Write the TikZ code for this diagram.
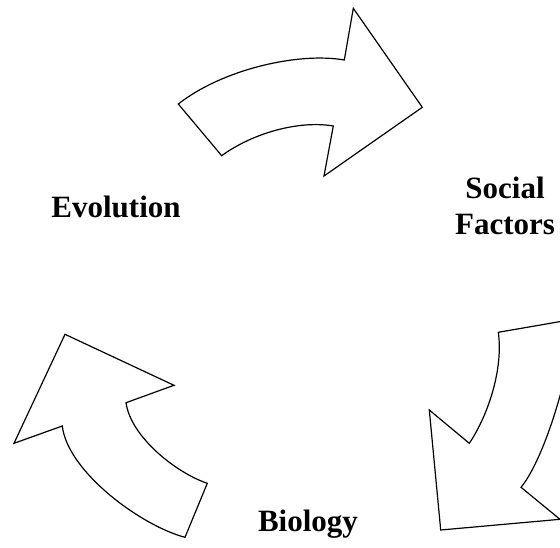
\documentclass[tikz,border=0pt]{standalone}
\usepackage{fontspec}
\setmainfont{Liberation Serif}
\begin{document}
\begin{tikzpicture}[x=1pt,y=-1pt,
  blockarrow/.style={draw=black,fill=white,line width=1.2pt,line join=miter},
  label/.style={font=\fontsize{31}{36}\selectfont\bfseries,inner sep=0pt,align=center}]
\useasboundingbox (0,0) rectangle (560,547);
\clip (0,0) rectangle (560,547);
% top arrow
\draw[blockarrow] (178.3,104) .. controls (223,69) and (299,52) .. (344.3,60)
  -- (353.3,8.3) -- (422.3,107.3) -- (324,176) -- (333.3,126)
  .. controls (298,120) and (251.7,133.7) .. (221.7,155.7) -- cycle;
% right arrow
\draw[blockarrow] (498.3,332.3) -- (575,319)
  .. controls (572,364) and (546,457) .. (521,487.3)
  -- (560,519.3) -- (440.7,530) -- (429.3,410) -- (469.3,443.3)
  .. controls (489.3,413.3) and (503.3,367.3) .. (498.3,332.3) -- cycle;
% left arrow
\draw[blockarrow] (65,334.3) -- (174,385.3) -- (126,402.7)
  .. controls (131,437.7) and (177.3,473.3) .. (207.3,483.3)
  -- (185,537.3)
  .. controls (140,525.3) and (67.3,471) .. (62.3,426)
  -- (14,443.3) -- cycle;
% labels
\node[label,anchor=base] (evo) at (116,217) {Evolution};
\node[label,anchor=base] (soc) at (505,234) {Social\\Factors};
\node[label,anchor=base] (bio) at (308,531.7) {Biology};
\end{tikzpicture}
\end{document}
